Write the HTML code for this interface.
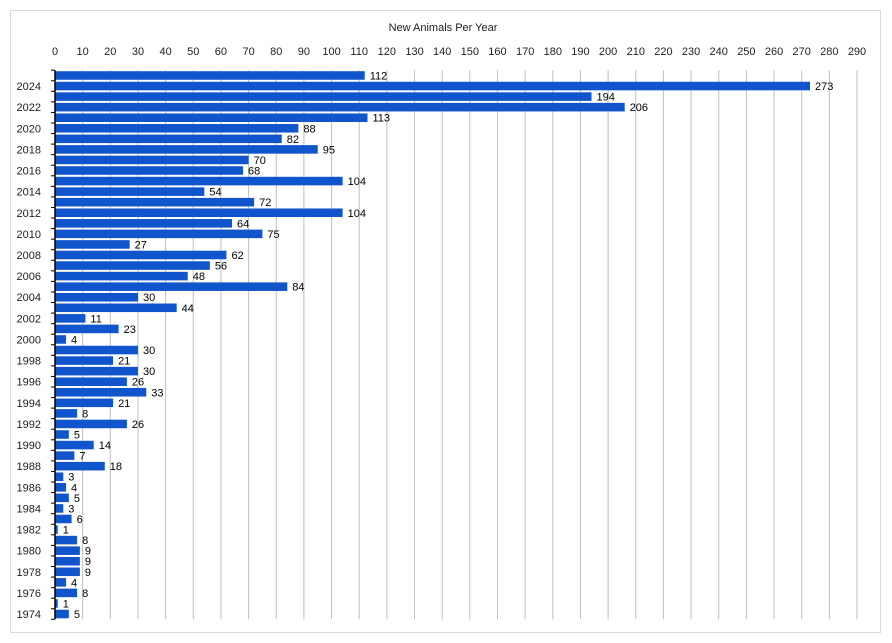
<!DOCTYPE html>
<html><head><meta charset="utf-8"><style>
html,body{margin:0;padding:0;background:#fff;}
svg{display:block;font-family:"Liberation Sans",sans-serif;}
</style></head><body>
<svg id="chart" width="892" height="643">
<rect x="10.5" y="10.5" width="870" height="622" fill="#fff" stroke="#d9d9d9"/>
<text x="443" y="31" text-anchor="middle" font-size="11" fill="#222">New Animals Per Year</text>
<g id="grid"></g><g id="bars"></g><g id="axis"></g>
</svg>
<script>
const years = [2025,2024,2023,2022,2021,2020,2019,2018,2017,2016,2015,2014,2013,2012,2011,2010,2009,2008,2007,2006,2005,2004,2003,2002,2001,2000,1999,1998,1997,1996,1995,1994,1993,1992,1991,1990,1989,1988,1987,1986,1985,1984,1983,1982,1981,1980,1979,1978,1977,1976,1975,1974];
const values = [112,273,194,206,113,88,82,95,70,68,104,54,72,104,64,75,27,62,56,48,84,30,44,11,23,4,30,21,30,26,33,21,8,26,5,14,7,18,3,4,5,3,6,1,8,9,9,9,4,8,1,5];
const xTicks = [0,10,20,30,40,50,60,70,80,90,100,110,120,130,140,150,160,170,180,190,200,210,220,230,240,250,260,270,280,290];
const NS="http://www.w3.org/2000/svg";
const x0=55, x1=857, xMax=290, yTop=70.2, yBot=619.3;
const band=(yBot-yTop)/years.length;
function xs(v){return x0+(x1-x0)*v/xMax;}
function ys(i){return yTop+band*i;}
function mk(t,a,p){const e=document.createElementNS(NS,t);for(const k in a)e.setAttribute(k,a[k]);p.appendChild(e);return e;}
const grid=document.getElementById('grid'),bars=document.getElementById('bars'),axis=document.getElementById('axis');
xTicks.forEach(t=>{
  if(t>0){const l=mk('line',{x1:xs(t),x2:xs(t),y1:yTop,y2:yBot,stroke:'#bfbfbf','stroke-width':1},grid);
  
  }
  const tx=mk('text',{x:xs(t),y:55,'text-anchor':'middle','font-size':11,fill:'#222'},axis);
  tx.textContent=t;
  
  
});
values.forEach((v,i)=>{
  const r=mk('rect',{x:x0,y:ys(i)+1,width:xs(v)-x0,height:band-2,fill:'#1155cc'},bars);
  
  
  const t=mk('text',{x:xs(v)+5,y:ys(i)+band/2+4,'font-size':11,fill:'#000'},bars);
  t.textContent=v;
  
  
});
const ax=mk('line',{x1:x0,x2:x0,y1:yTop,y2:yBot,stroke:'#000','stroke-width':1.5},axis);


for(let i=0;i<=years.length;i++){
  const tk=mk('line',{x1:x0-4,x2:x0,y1:ys(i),y2:ys(i),stroke:'#000','stroke-width':1},axis);
  
  
}
years.forEach((y,i)=>{
  if(y%2===0){
    const t=mk('text',{x:41,y:ys(i)+band/2+4,'text-anchor':'end','font-size':11,fill:'#222'},axis);
    t.textContent=y;
    
    
  }
});
</script>
</body></html>
